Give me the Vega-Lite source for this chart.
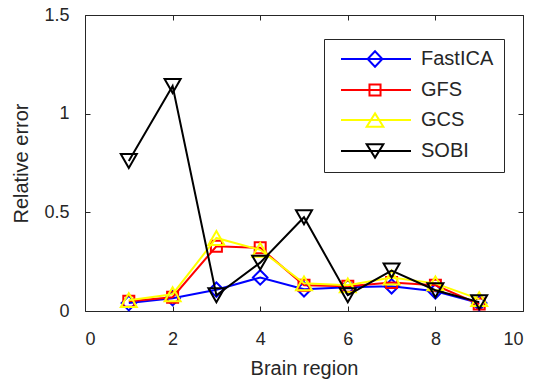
{
  "$schema": "https://vega.github.io/schema/vega-lite/v6.json",
  "width": 438,
  "height": 296,
  "autosize": {"type": "none"},
  "padding": {"left": 85, "top": 15, "right": 10, "bottom": 73},
  "background": "white",
  "config": {
    "view": {"stroke": null},
    "font": "Liberation Sans",
    "axis": {
      "grid": false,
      "domainColor": "#262626",
      "tickColor": "#262626",
      "labelColor": "#262626",
      "titleColor": "#262626",
      "labelFontSize": 18,
      "titleFontSize": 20,
      "titleFontWeight": "normal",
      "labelFont": "Liberation Sans",
      "titleFont": "Liberation Sans",
      "tickSize": -5,
      "domainWidth": 1,
      "tickWidth": 1
    },
    "legend": {
      "orient": "none",
      "legendX": 239,
      "legendY": 24,
      "padding": 10,
      "strokeColor": "#262626",
      "fillColor": "white",
      "labelFont": "Liberation Sans",
      "labelFontSize": 20,
      "labelColor": "#262626",
      "symbolSize": 196,
      "symbolStrokeWidth": 2,
      "symbolOpacity": 1,
      "labelOffset": 67,
      "rowPadding": 9
    }
  },
  "datasets": {
    "d": [
      {"method": "FastICA", "region": 1, "err": 0.04},
      {"method": "FastICA", "region": 2, "err": 0.065},
      {"method": "FastICA", "region": 3, "err": 0.108},
      {"method": "FastICA", "region": 4, "err": 0.17},
      {"method": "FastICA", "region": 5, "err": 0.11},
      {"method": "FastICA", "region": 6, "err": 0.12},
      {"method": "FastICA", "region": 7, "err": 0.125},
      {"method": "FastICA", "region": 8, "err": 0.1},
      {"method": "FastICA", "region": 9, "err": 0.04},
      {"method": "GFS", "region": 1, "err": 0.05},
      {"method": "GFS", "region": 2, "err": 0.07},
      {"method": "GFS", "region": 3, "err": 0.328},
      {"method": "GFS", "region": 4, "err": 0.32},
      {"method": "GFS", "region": 5, "err": 0.13},
      {"method": "GFS", "region": 6, "err": 0.125},
      {"method": "GFS", "region": 7, "err": 0.145},
      {"method": "GFS", "region": 8, "err": 0.13},
      {"method": "GFS", "region": 9, "err": 0.035},
      {"method": "GCS", "region": 1, "err": 0.055},
      {"method": "GCS", "region": 2, "err": 0.085},
      {"method": "GCS", "region": 3, "err": 0.37},
      {"method": "GCS", "region": 4, "err": 0.31},
      {"method": "GCS", "region": 5, "err": 0.14},
      {"method": "GCS", "region": 6, "err": 0.13},
      {"method": "GCS", "region": 7, "err": 0.17},
      {"method": "GCS", "region": 8, "err": 0.14},
      {"method": "GCS", "region": 9, "err": 0.06},
      {"method": "SOBI", "region": 1, "err": 0.76},
      {"method": "SOBI", "region": 2, "err": 1.14},
      {"method": "SOBI", "region": 3, "err": 0.08},
      {"method": "SOBI", "region": 4, "err": 0.245},
      {"method": "SOBI", "region": 5, "err": 0.475},
      {"method": "SOBI", "region": 6, "err": 0.08},
      {"method": "SOBI", "region": 7, "err": 0.205},
      {"method": "SOBI", "region": 8, "err": 0.105},
      {"method": "SOBI", "region": 9, "err": 0.045}
    ]
  },
  "data": {"name": "d"},
  "layer": [
    {
      "mark": {"type": "point", "opacity": 0, "filled": false},
      "encoding": {
        "x": {"field": "region", "type": "quantitative", "scale": {"domain": [0, 10], "nice": false},
          "axis": {"orient": "bottom", "values": [0, 2, 4, 6, 8, 10], "format": "d", "title": "Brain region", "labelPadding": 24, "titlePadding": 10}},
        "y": {"field": "err", "type": "quantitative", "scale": {"domain": [0, 1.5], "nice": false},
          "axis": {"orient": "left", "values": [0, 0.5, 1, 1.5], "format": "~g", "title": "Relative error", "labelPadding": 21, "titlePadding": 12}},
        "color": {"field": "method", "type": "nominal",
          "scale": {"domain": ["FastICA", "GFS", "GCS", "SOBI"], "range": ["#0000ff", "#ff0000", "#ffff00", "#000000"]},
          "legend": {"title": null}},
        "shape": {"field": "method", "type": "nominal",
          "scale": {"domain": ["FastICA", "GFS", "GCS", "SOBI"], "range": [
            "M-0.43,0L9.57,0M4.43,-1.1L5.48,0L4.43,1.1L3.38,0Z",
            "M-0.43,0L9.57,0M3.64,-0.79L5.22,-0.79L5.22,0.79L3.64,0.79Z",
            "M-0.43,0L9.57,0M4.43,-0.95L5.62,0.95L3.24,0.95Z",
            "M-0.43,0L9.57,0M4.43,0.95L5.62,-0.95L3.24,-0.95Z"
          ]},
          "legend": {"title": null}}
      }
    },
    {
      "mark": {"type": "point", "opacity": 0},
      "encoding": {
        "x": {"field": "region", "type": "quantitative",
          "axis": {"orient": "top", "values": [0, 2, 4, 6, 8, 10], "labels": false, "title": null}},
        "y": {"field": "err", "type": "quantitative",
          "axis": {"orient": "right", "values": [0, 0.5, 1, 1.5], "labels": false, "title": null}}
      }
    },
    {
      "transform": [{"filter": "datum.method === 'FastICA'"}],
      "mark": {"type": "line", "strokeWidth": 2, "point": {"shape": "diamond", "filled": false, "size": 210, "strokeWidth": 2}},
      "encoding": {
        "x": {"field": "region", "type": "quantitative", "axis": null},
        "y": {"field": "err", "type": "quantitative", "axis": null},
        "color": {"field": "method", "type": "nominal", "legend": null}
      }
    },
    {
      "transform": [{"filter": "datum.method === 'GFS'"}],
      "mark": {"type": "line", "strokeWidth": 2, "point": {"shape": "square", "filled": false, "size": 121, "strokeWidth": 2}},
      "encoding": {
        "x": {"field": "region", "type": "quantitative", "axis": null},
        "y": {"field": "err", "type": "quantitative", "axis": null},
        "color": {"field": "method", "type": "nominal", "legend": null}
      }
    },
    {
      "transform": [{"filter": "datum.method === 'GCS'"}],
      "mark": {"type": "line", "strokeWidth": 2, "point": {"shape": "triangle-up", "filled": false, "size": 256, "strokeWidth": 2}},
      "encoding": {
        "x": {"field": "region", "type": "quantitative", "axis": null},
        "y": {"field": "err", "type": "quantitative", "axis": null},
        "color": {"field": "method", "type": "nominal", "legend": null}
      }
    },
    {
      "transform": [{"filter": "datum.method === 'SOBI'"}],
      "mark": {"type": "line", "strokeWidth": 2, "point": {"shape": "triangle-down", "filled": false, "size": 256, "strokeWidth": 2}},
      "encoding": {
        "x": {"field": "region", "type": "quantitative", "axis": null},
        "y": {"field": "err", "type": "quantitative", "axis": null},
        "color": {"field": "method", "type": "nominal", "legend": null}
      }
    }
  ],
  "resolve": {"axis": {"x": "independent", "y": "independent"}}
}
